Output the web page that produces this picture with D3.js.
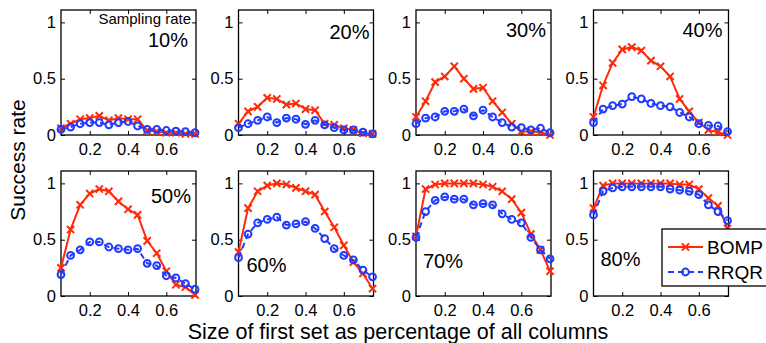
<!DOCTYPE html>
<html>
<head>
<meta charset="utf-8">
<script src="https://cdn.jsdelivr.net/npm/d3@7"></script>
<style>
body { margin: 0; background: #fff; }
text { font-family: "Liberation Sans", Arial, sans-serif; }
</style>
</head>
<body>
<div class="svg-target"></div>
<script>
// first-set size (fraction of all columns)
const sizes = [0.05, 0.10, 0.15, 0.20, 0.25, 0.30, 0.35, 0.40, 0.45, 0.50, 0.55, 0.60, 0.65, 0.70, 0.75];
const samplingRates = ['10%', '20%', '30%', '40%', '50%', '60%', '70%', '80%'];
const seriesNames = ['BOMP', 'RRQR'];
const yTicks = [0, 0.5, 1];
const xTicks = [0.2, 0.4, 0.6];

// success rates, one array per sampling rate
const bomp10 = [0.06, 0.10, 0.14, 0.15, 0.17, 0.13, 0.15, 0.14, 0.14, 0.04, 0.03, 0.02, 0.02, 0.01, 0.01];
const rrqr10 = [0.05, 0.07, 0.10, 0.11, 0.11, 0.09, 0.11, 0.12, 0.08, 0.05, 0.05, 0.04, 0.035, 0.03, 0.02];
const bomp20 = [0.10, 0.21, 0.25, 0.33, 0.32, 0.27, 0.28, 0.23, 0.22, 0.10, 0.09, 0.06, 0.045, 0.015, 0.01];
const rrqr20 = [0.065, 0.10, 0.13, 0.16, 0.11, 0.15, 0.14, 0.095, 0.13, 0.09, 0.065, 0.045, 0.045, 0.025, 0.01];
const bomp30 = [0.16, 0.30, 0.47, 0.52, 0.61, 0.50, 0.41, 0.42, 0.30, 0.20, 0.10, 0.03, 0.03, 0.025, 0.0];
const rrqr30 = [0.10, 0.15, 0.16, 0.21, 0.21, 0.23, 0.17, 0.22, 0.16, 0.11, 0.07, 0.065, 0.045, 0.06, 0.02];
const bomp40 = [0.16, 0.44, 0.64, 0.76, 0.78, 0.75, 0.66, 0.61, 0.52, 0.32, 0.21, 0.11, 0.045, 0.025, 0.0];
const rrqr40 = [0.11, 0.23, 0.26, 0.275, 0.34, 0.32, 0.28, 0.26, 0.25, 0.20, 0.16, 0.10, 0.085, 0.08, 0.03];
const bomp50 = [0.25, 0.59, 0.81, 0.91, 0.95, 0.93, 0.84, 0.77, 0.72, 0.49, 0.38, 0.22, 0.10, 0.08, 0.01];
const rrqr50 = [0.19, 0.36, 0.41, 0.48, 0.48, 0.435, 0.42, 0.41, 0.42, 0.29, 0.27, 0.18, 0.16, 0.11, 0.06];
const bomp60 = [0.39, 0.78, 0.93, 0.98, 1.0, 0.99, 0.96, 0.93, 0.90, 0.75, 0.61, 0.45, 0.30, 0.20, 0.065];
const rrqr60 = [0.34, 0.55, 0.65, 0.68, 0.70, 0.63, 0.64, 0.66, 0.60, 0.51, 0.42, 0.36, 0.32, 0.23, 0.17];
const bomp70 = [0.53, 0.95, 0.99, 1.0, 1.0, 1.0, 1.0, 0.99, 0.97, 0.93, 0.86, 0.74, 0.55, 0.41, 0.22];
const rrqr70 = [0.52, 0.75, 0.85, 0.88, 0.86, 0.86, 0.81, 0.82, 0.81, 0.73, 0.68, 0.65, 0.52, 0.41, 0.33];
const bomp80 = [0.78, 0.98, 1.0, 1.0, 1.0, 1.0, 1.0, 1.0, 1.0, 0.99, 0.99, 0.95, 0.87, 0.80, 0.60];
const rrqr80 = [0.72, 0.93, 0.96, 0.97, 0.97, 0.97, 0.97, 0.97, 0.95, 0.94, 0.93, 0.90, 0.81, 0.75, 0.67];

const bompAll = [bomp10, bomp20, bomp30, bomp40, bomp50, bomp60, bomp70, bomp80];
const rrqrAll = [rrqr10, rrqr20, rrqr30, rrqr40, rrqr50, rrqr60, rrqr70, rrqr80];

const w = 766;
const h = 343;
const colX = [61, 238.5, 416, 593.5];
const rowY = [10, 171];
const pw = 135;
const ph = 125;
const red = '#ff2a0a';
const blue = '#1f3cff';
const font = '"Liberation Sans", Arial, sans-serif';

// where the sampling rate label sits inside each panel
const labelPos = [
    {x: pw - 8, y: 37, anchor: 'end'},
    {x: pw - 4, y: 29, anchor: 'end'},
    {x: pw - 5, y: 27, anchor: 'end'},
    {x: pw - 6, y: 27, anchor: 'end'},
    {x: pw - 5, y: 32, anchor: 'end'},
    {x: 8, y: 101, anchor: 'start'},
    {x: 7, y: 97, anchor: 'start'},
    {x: 7, y: 95, anchor: 'start'}
];

const svg = d3.select('.svg-target')
    .append('svg')
    .attr('width', w)
    .attr('height', h);

const xScale = d3.scaleLinear().domain([0.05, 0.755]).range([0, pw]);
const yScale = d3.scaleLinear().domain([0, 1.11]).range([ph, 0]);

const line = d3.line()
    .x((d, i) => xScale(sizes[i]))
    .y(d => yScale(d));

const styleAxis = g => {
    g.attr('font-family', font).attr('font-size', 16.5);
    g.selectAll('.domain').remove();
    g.selectAll('.tick line').attr('stroke', '#000').attr('stroke-width', 1);
    g.selectAll('.tick text').attr('fill', '#000');
};

const drawCross = (g, x, y, color) => {
    const s = 3.6;
    g.append('path')
        .attr('d', `M${x - s},${y - s}L${x + s},${y + s}M${x - s},${y + s}L${x + s},${y - s}`)
        .attr('stroke', color)
        .attr('stroke-width', 2);
};

samplingRates.forEach((rate, k) => {
    const g = svg.append('g')
        .attr('transform', `translate(${colX[k % 4]}, ${rowY[Math.floor(k / 4)]})`);

    // axes with inward ticks on all four sides
    g.append('g')
        .attr('transform', `translate(0, ${ph})`)
        .call(d3.axisBottom(xScale).tickValues(xTicks).tickSize(-4).tickSizeOuter(0).tickPadding(8).tickFormat(d3.format('.1f')))
        .call(styleAxis);
    g.append('g')
        .call(d3.axisTop(xScale).tickValues(xTicks).tickSize(-4).tickSizeOuter(0).tickFormat(''))
        .call(styleAxis);
    g.append('g')
        .call(d3.axisLeft(yScale).tickValues(yTicks).tickSize(-4).tickSizeOuter(0).tickPadding(5).tickFormat(d3.format('~g')))
        .call(styleAxis);
    g.append('g')
        .attr('transform', `translate(${pw}, 0)`)
        .call(d3.axisRight(yScale).tickValues(yTicks).tickSize(-4).tickSizeOuter(0).tickFormat(''))
        .call(styleAxis);

    g.append('rect')
        .attr('width', pw)
        .attr('height', ph)
        .attr('fill', 'none')
        .attr('stroke', '#000')
        .attr('stroke-width', 1.3);

    // BOMP
    g.append('path')
        .datum(bompAll[k])
        .attr('d', line)
        .attr('fill', 'none')
        .attr('stroke', red)
        .attr('stroke-width', 2);
    bompAll[k].forEach((v, i) => drawCross(g, xScale(sizes[i]), yScale(v), red));

    // RRQR
    g.append('path')
        .datum(rrqrAll[k])
        .attr('d', line)
        .attr('fill', 'none')
        .attr('stroke', blue)
        .attr('stroke-width', 2)
        .attr('stroke-dasharray', '6,4');
    g.selectAll('circle')
        .data(rrqrAll[k])
        .enter()
        .append('circle')
            .attr('cx', (d, i) => xScale(sizes[i]))
            .attr('cy', d => yScale(d))
            .attr('r', 3.4)
            .attr('fill', 'none')
            .attr('stroke', blue)
            .attr('stroke-width', 2);

    const lp = labelPos[k];
    g.append('text')
        .attr('x', lp.x)
        .attr('y', lp.y)
        .attr('text-anchor', lp.anchor)
        .attr('font-size', 20)
        .text(rate);

    if (k === 0) {
        g.append('text')
            .attr('x', pw - 5)
            .attr('y', 14)
            .attr('text-anchor', 'end')
            .attr('font-size', 15)
            .text('Sampling rate');
    }
});

// axis titles
svg.append('text')
    .attr('transform', 'translate(25, 160) rotate(-90)')
    .attr('text-anchor', 'middle')
    .attr('font-size', 21)
    .text('Success rate');

svg.append('text')
    .attr('x', 398)
    .attr('y', 339)
    .attr('text-anchor', 'middle')
    .attr('font-size', 21.5)
    .text('Size of first set as percentage of all columns');

// legend
const legend = svg.append('g').attr('transform', 'translate(662, 229)');
legend.append('rect')
    .attr('width', 120)
    .attr('height', 57)
    .attr('fill', '#fff')
    .attr('stroke', '#000')
    .attr('stroke-width', 1.3);

legend.append('line')
    .attr('x1', 6).attr('x2', 41).attr('y1', 18).attr('y2', 18)
    .attr('stroke', red).attr('stroke-width', 2);
drawCross(legend, 23.5, 18, red);
legend.append('line')
    .attr('x1', 6).attr('x2', 41).attr('y1', 43).attr('y2', 43)
    .attr('stroke', blue).attr('stroke-width', 2).attr('stroke-dasharray', '6,4');
legend.append('circle')
    .attr('cx', 23.5).attr('cy', 43).attr('r', 3.4)
    .attr('fill', 'none').attr('stroke', blue).attr('stroke-width', 2);

legend.selectAll('text.leg')
    .data(seriesNames)
    .enter()
    .append('text')
        .attr('class', 'leg')
        .attr('x', 45)
        .attr('y', (d, i) => 25 + i * 25)
        .attr('font-size', 19)
        .text(d => d);
</script>
</body>
</html>
